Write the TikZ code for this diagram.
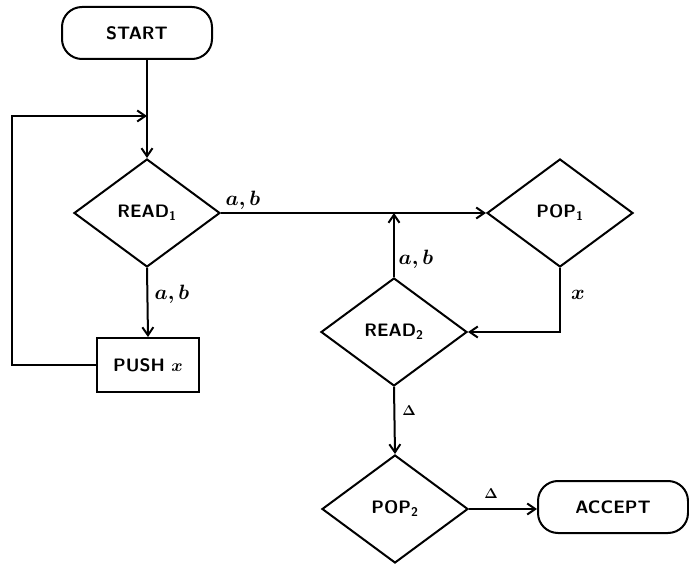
\documentclass[tikz,border=0pt]{standalone}
\usepackage{amsmath,amssymb}
\usepackage{tikz}
\usetikzlibrary{positioning,shapes.geometric,arrows.meta}

\begin{document}
\begin{tikzpicture}[
    x=1pt, y=-1pt,
    line width=2pt,
    base/.style={draw, line width=2pt, align=center, inner sep=0pt,
                 font=\fontsize{18}{21}\sffamily\bfseries\selectfont},
    Bterm/.style={base, rectangle, rounded corners=20pt,
                  minimum width=150pt, minimum height=52pt},
    Btest/.style={base, diamond, minimum width=146pt, minimum height=108pt},
    Bact/.style={base, rectangle, minimum width=102pt, minimum height=54pt},
    arr/.style={-{Straight Barb[length=8pt,width=11pt,line width=2pt]}},
    lbl/.style={font=\fontsize{22}{24}\boldmath\selectfont},
    tri/.style={font=\fontsize{15}{17}\boldmath\selectfont},
]
\useasboundingbox (0,0) rectangle (689,564);

% nodes
\node[Bterm] (start)  at (137,33)  {START};
\node[Btest] (read1)  at (147,213) {READ\textsubscript{1}};
\node[Bact]  (push)   at (148,365) {PUSH $\boldsymbol{x}$};
\node[Btest] (pop1)   at (560,213) {POP\textsubscript{1}};
\node[Btest] (read2)  at (394,332) {READ\textsubscript{2}};
\node[Btest] (pop2)   at (395,509) {POP\textsubscript{2}};
\node[Bterm] (accept) at (613,507) {ACCEPT};

\coordinate (merge) at (read1.north |- 0,116);
\coordinate (loopc) at (12,116);
\coordinate (join)  at (read2.north |- pop1.west);

% connectors
\draw[arr] (start.south -| read1.north) -- (read1.north);
\draw[arr] (push.west) -| (loopc) -- (merge);
\draw[arr] (read1.south) -- (push.north);
\draw[arr] (read1.east) -- (pop1.west);
\draw[arr] (read2.north) -- (join);
\draw[arr] (pop1.south) |- (read2.east);
\draw[arr] (read2.south) -- (pop2.north);
\draw[arr] (pop2.east) -- (pop2.east -| accept.west);

% labels
\node[lbl] (l1) at (243,200) {$a,b$};
\node[lbl] (l2) at (172,294) {$a,b$};
\node[lbl] (l3) at (416,259) {$a,b$};
\node[lbl] (l4) at (578,295) {$x$};
\node[tri] (l5) at (409,411) {$\Delta$};
\node[tri] (l6) at (491,494) {$\Delta$};
\end{tikzpicture}
\end{document}
